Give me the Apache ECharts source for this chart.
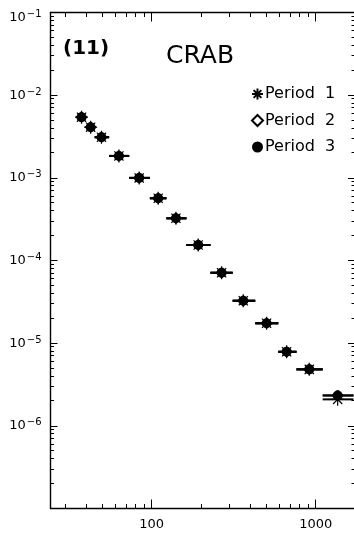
<!DOCTYPE html>
<html>
<head>
<meta charset="utf-8">
<script src="https://cdn.jsdelivr.net/npm/echarts@6/dist/echarts.min.js"></script>
<style>
  html, body { margin: 0; padding: 0; background: #fff; }
  #chart { width: 354px; height: 534px; }
</style>
</head>
<body>
<div id="chart"></div>
<script>
// Photon energy bins (centre, lower edge, upper edge)
const energy = [37.4, 42.5, 49.5, 63.2, 84.0, 109.7, 140.7, 192.3, 267, 362, 502, 665, 914, 1361];
const energyLow = [35, 40, 45, 55.1, 73.0, 97.6, 123.1, 163.0, 228.3, 311.8, 428.2, 591.6, 763.8, 1103];
const energyHigh = [40, 45, 55.1, 73.0, 97.6, 123.1, 163.0, 228.3, 311.8, 428.2, 591.6, 763.8, 1103, 1700];

// Flux per observing period
const fluxPeriod1 = [5.42e-3, 4.10e-3, 3.10e-3, 1.84e-3, 9.98e-4, 5.66e-4, 3.24e-4, 1.54e-4, 7.11e-5, 3.26e-5, 1.74e-5, 7.87e-6, 4.82e-6, 2.09e-6];
const fluxPeriod2 = [5.42e-3, 4.10e-3, 3.10e-3, 1.84e-3, 9.98e-4, 5.66e-4, 3.24e-4, 1.54e-4, 7.11e-5, 3.26e-5, 1.74e-5, 7.87e-6, 4.82e-6, 2.33e-6];
const fluxPeriod3 = [5.42e-3, 4.10e-3, 3.10e-3, 1.84e-3, 9.98e-4, 5.66e-4, 3.24e-4, 1.54e-4, 7.11e-5, 3.26e-5, 1.74e-5, 7.87e-6, 4.82e-6, 2.33e-6];

const periodNames = ['Period  1', 'Period  2', 'Period  3'];

// Axis ranges and minor tick values
const xRange = [24.2, 1736];
const yRange = [1e-7, 1e-1];
const minorXTicks = [30, 40, 50, 60, 70, 80, 90, 200, 300, 400, 500, 600, 700, 800, 900];
const minorYTicks = [];
for (let k = -7; k <= -2; k++) {
  for (let m = 2; m <= 9; m++) minorYTicks.push(m * Math.pow(10, k));
}

const FONT = 'DejaVu Sans';
const asteriskPath = 'path://M0,-10L0,10M-10,0L10,0M-7.07,-7.07L7.07,7.07M-7.07,7.07L7.07,-7.07';

function crisp(v) { return Math.round(v - 0.5) + 0.5; }

function errorBars(name, flux, z) {
  return {
    type: 'custom',
    name: name + ' bars',
    z: z,
    silent: true,
    data: energy.map((e, i) => [e, flux[i], energyLow[i], energyHigh[i]]),
    encode: { x: 0, y: 1 },
    renderItem: function (params, api) {
      const y = api.value(1);
      const a = api.coord([api.value(2), y]);
      const b = api.coord([api.value(3), y]);
      return {
        type: 'line',
        shape: { x1: a[0], y1: a[1], x2: b[0], y2: b[1] },
        style: { stroke: '#000', lineWidth: 2 }
      };
    }
  };
}

function points(name, flux, symbol, size, style, z) {
  return {
    type: 'scatter',
    name: name,
    z: z,
    symbol: symbol,
    symbolSize: size,
    itemStyle: Object.assign({ opacity: 1 }, style),
    data: energy.map((e, i) => [e, flux[i]])
  };
}

// Minor tick marks on all four sides of the frame
const minorTicks = {
  type: 'custom',
  silent: true,
  z: 6,
  data: [[100, 1e-4]],
  encode: { x: 0, y: 1 },
  renderItem: function (params, api) {
    const cs = params.coordSys;
    const left = cs.x, right = cs.x + cs.width, top = cs.y, bottom = cs.y + cs.height;
    const st = { stroke: '#000', lineWidth: 1 };
    const children = [];
    minorXTicks.forEach(v => {
      const px = crisp(api.coord([v, 1e-4])[0]);
      children.push({ type: 'line', shape: { x1: px, y1: bottom, x2: px, y2: bottom - 4.5 }, style: st });
      children.push({ type: 'line', shape: { x1: px, y1: top, x2: px, y2: top + 4.5 }, style: st });
    });
    minorYTicks.forEach(v => {
      const py = crisp(api.coord([100, v])[1]);
      children.push({ type: 'line', shape: { x1: left, y1: py, x2: left + 3.5, y2: py }, style: st });
      children.push({ type: 'line', shape: { x1: right, y1: py, x2: right - 3.5, y2: py }, style: st });
    });
    return { type: 'group', children: children };
  }
};

function isDecade(v) {
  const e = Math.log10(v);
  return Math.abs(e - Math.round(e)) < 1e-6;
}

const axisLineStyle = { color: '#000', width: 1.4 };
const majorTickStyle = { color: '#000', width: 1 };

const option = {
  animation: false,
  backgroundColor: '#fff',
  grid: { left: 50.5, right: -1, top: 12.5, bottom: 25.5, outerBoundsMode: 'none' },
  xAxis: [
    {
      type: 'log', logBase: 10, min: xRange[0], max: xRange[1], position: 'bottom',
      axisLine: { show: true, lineStyle: axisLineStyle },
      axisTick: { show: true, inside: true, length: 9, lineStyle: majorTickStyle },
      splitLine: { show: false },
      axisLabel: {
        show: true, margin: 10, color: '#000', fontFamily: FONT, fontSize: 13,
        showMinLabel: false, showMaxLabel: false,
        formatter: v => isDecade(v) ? String(Math.round(v)) : ''
      }
    },
    {
      type: 'log', logBase: 10, min: xRange[0], max: xRange[1], position: 'top',
      axisLine: { show: true, lineStyle: axisLineStyle },
      axisTick: { show: true, inside: true, length: 9, lineStyle: majorTickStyle },
      splitLine: { show: false },
      axisLabel: { show: false }
    }
  ],
  yAxis: [
    {
      type: 'log', logBase: 10, min: yRange[0], max: yRange[1], position: 'left',
      axisLine: { show: true, lineStyle: axisLineStyle },
      axisTick: { show: true, inside: true, length: 7, lineStyle: majorTickStyle },
      splitLine: { show: false },
      axisLabel: {
        show: true, margin: 9, color: '#000', showMinLabel: false, showMaxLabel: true,
        formatter: v => {
          if (!isDecade(v)) return '';
          const e = Math.round(Math.log10(v));
          if (e <= -7) return '';
          const txt = '{b|10}{s|\u2212' + (-e) + '}';
          // the top label sits a little lower so it stays clear of the edge
          return e === -1 ? '{gap|}\n' + txt : txt;
        },
        rich: {
          b: { fontFamily: FONT, fontSize: 13, lineHeight: 16, color: '#000', verticalAlign: 'middle' },
          s: { fontFamily: FONT, fontSize: 10, lineHeight: 9, color: '#000', verticalAlign: 'top', padding: [0, 0, 0, 1] },
          gap: { fontSize: 1, lineHeight: 10 }
        }
      }
    },
    {
      type: 'log', logBase: 10, min: yRange[0], max: yRange[1], position: 'right',
      axisLine: { show: true, lineStyle: axisLineStyle },
      axisTick: { show: true, inside: true, length: 7, lineStyle: majorTickStyle },
      splitLine: { show: false },
      axisLabel: { show: false }
    }
  ],
  legend: {
    orient: 'vertical',
    left: 251,
    top: 86,
    padding: 0,
    itemGap: 10.5,
    itemWidth: 11,
    itemHeight: 11,
    textStyle: { fontFamily: FONT, fontSize: 16, lineHeight: 16, color: '#000', padding: [0, 0, 0, -3] },
    selectedMode: false,
    data: periodNames
  },
  graphic: [
    { type: 'text', left: 63, top: 39, style: { text: '(11)', fontFamily: FONT, fontSize: 20, fontWeight: 'bold', fill: '#000' } },
    { type: 'text', left: 166, top: 44, style: { text: 'CRAB', fontFamily: FONT, fontSize: 25, fill: '#000' } }
  ],
  series: [
    errorBars(periodNames[0], fluxPeriod1, 1),
    errorBars(periodNames[1], fluxPeriod2, 1),
    errorBars(periodNames[2], fluxPeriod3, 1),
    points(periodNames[0], fluxPeriod1, asteriskPath, 13, { color: 'rgba(0,0,0,0)', borderColor: '#000', borderWidth: 1.2 }, 2),
    points(periodNames[1], fluxPeriod2, 'diamond', 11, { color: 'rgba(0,0,0,0)', borderColor: '#000', borderWidth: 1 }, 3),
    points(periodNames[2], fluxPeriod3, 'circle', 10, { color: '#000', borderWidth: 0 }, 4),
    minorTicks
  ]
};

const chart = echarts.init(document.getElementById('chart'), null, { renderer: 'canvas' });
chart.setOption(option);
</script>
</body>
</html>
